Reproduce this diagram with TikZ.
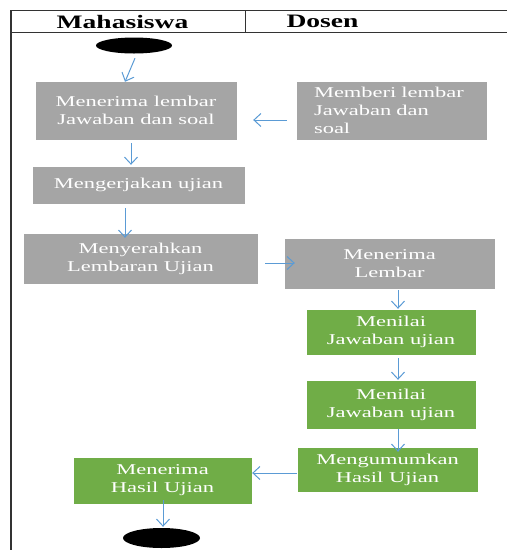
\documentclass[tikz,border=0pt]{standalone}
\usepackage{fontspec}
\setmainfont{Liberation Serif}
\newfontfamily\boxfont[FakeStretch=1.5]{Liberation Serif}
\newfontfamily\headfont[FakeStretch=1.45]{Liberation Serif}
\usetikzlibrary{arrows.meta,shapes.geometric}

\definecolor{boxgrey}{HTML}{A5A5A5}
\definecolor{boxgreen}{HTML}{70AD47}
\definecolor{flowblue}{HTML}{5B9BD5}
\definecolor{frameline}{HTML}{333333}

\tikzset{
  lanehead/.style={font=\headfont\bfseries\fontsize{19}{22}\selectfont},
  greybox/.style={fill=boxgrey, draw=white, line width=0.4pt, text=white, align=center,
    inner sep=0pt, font=\boxfont\fontsize{15}{18}\selectfont},
  greenbox/.style={greybox, fill=boxgreen},
  flow/.style={draw=flowblue, line width=1pt, -{Straight Barb[length=7pt,width=13pt]}},
  endpoint/.style={ellipse, fill=black, inner sep=0pt},
}

\begin{document}
\begin{tikzpicture}[x=1pt,y=-1pt]
\useasboundingbox (0,0) rectangle (507,550);
% swimlanes
\draw[frameline, line width=1.4pt] (11,550) -- (11,10.5) -- (507,10.5);
\draw[frameline, line width=1pt] (11,32) -- (507,32);
\draw[frameline, line width=1pt] (245,10.5) -- (245,32);
\node[lanehead] (mhs) at (122.5,21.5) {Mahasiswa};
\node[lanehead] (dsn) at (322.5,21.5) {Dosen};

% activities
\node[endpoint, minimum width=76pt, minimum height=16pt] (start) at (134,45.5) {};
\node[greybox, minimum width=202pt, minimum height=59pt] (b1) at (136,110.5) {Menerima lembar\\Jawaban dan soal};
\node[greybox, minimum width=191pt, minimum height=59pt, text width=155pt, align=left] (b2) at (391.5,110.5) {Memberi lembar\\Jawaban dan\\soal};
\node[greybox, minimum width=213pt, minimum height=38pt] (b3) at (138.5,185) {Mengerjakan ujian};
\node[greybox, minimum width=235pt, minimum height=51pt] (b4) at (140.5,258.5) {Menyerahkan\\Lembaran Ujian};
\node[greybox, minimum width=211pt, minimum height=51pt] (b5) at (389.5,263.5) {Menerima\\Lembar};
\node[greenbox, minimum width=170pt, minimum height=46pt] (b6) at (391,332) {Menilai\\Jawaban ujian};
\node[greenbox, minimum width=170pt, minimum height=49pt] (b7) at (391,404.5) {Menilai\\Jawaban ujian};
\node[greenbox, minimum width=181pt, minimum height=45pt] (b8) at (387.5,469.5) {Mengumumkan\\Hasil Ujian};
\node[greenbox, minimum width=179pt, minimum height=47pt] (b9) at (162.5,480.5) {Menerima\\Hasil Ujian};
\node[endpoint, minimum width=77pt, minimum height=20pt] (stop) at (161.5,538) {};

% flows
\draw[flow] ([xshift=1pt,yshift=-4.5pt]start.south) -- ([xshift=-11pt,yshift=-1pt]b1.north);
\draw[flow] ([xshift=-9pt,yshift=-9.5pt]b2.west) -- ([xshift=16pt,yshift=-9.5pt]b1.east);
\draw[flow] ([xshift=-5pt,yshift=-3pt]b1.south) -- ([xshift=-7.5pt,yshift=1pt]b3.north);
\draw[flow] ([xshift=-13.5pt,yshift=-4pt]b3.south) -- ([xshift=-15.5pt,yshift=-5pt]b4.north);
\draw[flow] ([xshift=7pt,yshift=-4.5pt]b4.east) -- ([xshift=11pt,yshift=0.5pt]b5.west);
\draw[flow] ([xshift=8.5pt,yshift=-1pt]b5.south) -- ([xshift=7pt]b6.north);
\draw[flow] ([xshift=7pt,yshift=-3pt]b6.south) -- ([xshift=7pt]b7.north);
\draw[flow] ([xshift=7pt]b7.south) -- ([xshift=10.5pt,yshift=-5pt]b8.north);
\draw[flow] ([yshift=-3.5pt]b8.west) -- ([yshift=7.5pt]b9.east);
\draw[flow] ([xshift=0.5pt,yshift=4pt]b9.south) -- ([xshift=1.5pt,yshift=1pt]stop.north);
\end{tikzpicture}
\end{document}
